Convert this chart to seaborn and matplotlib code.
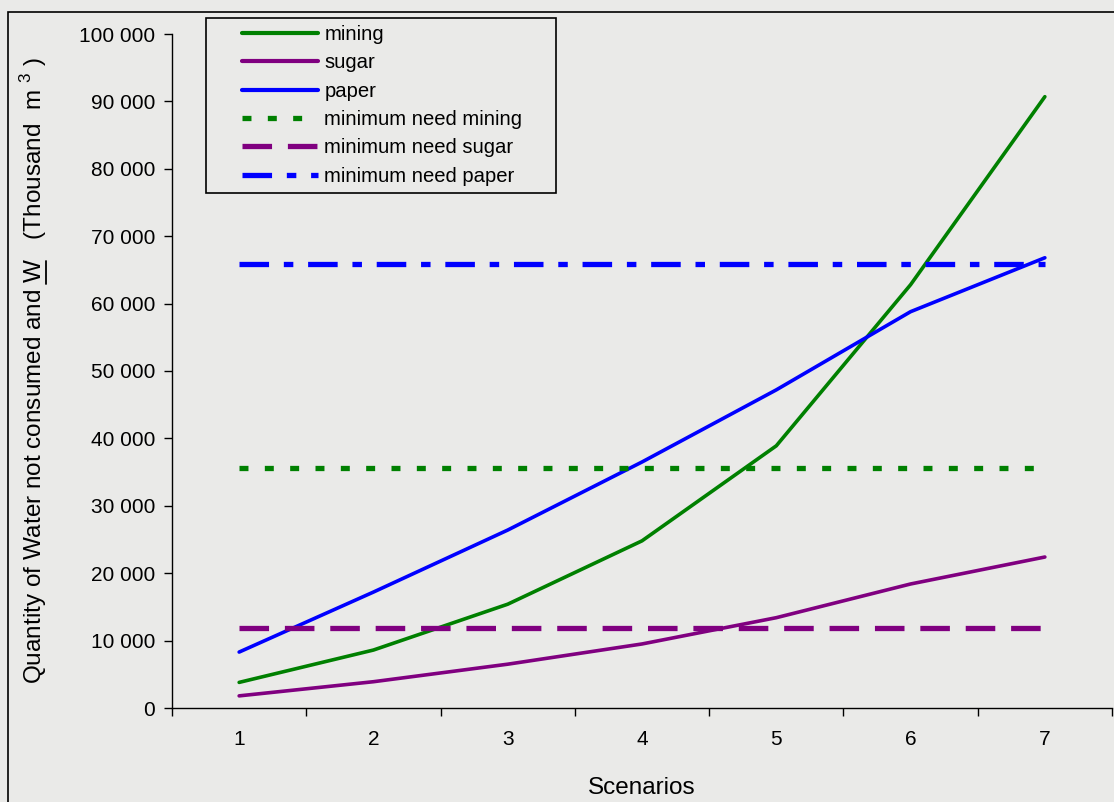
import matplotlib
matplotlib.use("Agg")
import matplotlib.pyplot as plt
import matplotlib.ticker as mticker
from matplotlib.patches import Rectangle
from matplotlib.lines import Line2D
import seaborn as sns
import pandas as pd

# === Data ===
scenarios = [1, 2, 3, 4, 5, 6, 7]
mining = [3800, 8600, 15400, 24800, 38900, 62800, 90700]
sugar = [1800, 3900, 6500, 9500, 13400, 18400, 22400]
paper = [8300, 17200, 26400, 36500, 47200, 58800, 66800]

min_mining = 35600
min_sugar = 11900
min_paper = 65900

series_names = ["mining", "sugar", "paper"]
series_colors = ["#008000", "#800080", "#0000FF"]

df = pd.DataFrame({
    "Scenario": scenarios * 3,
    "value": mining + sugar + paper,
    "sector": [n for n in series_names for _ in scenarios],
})

# === Style ===
sns.set_style("ticks")
plt.rcParams["font.family"] = ["Liberation Sans", "DejaVu Sans"]
plt.rcParams["text.color"] = "black"
plt.rcParams["axes.labelcolor"] = "black"
plt.rcParams["xtick.color"] = "black"
plt.rcParams["ytick.color"] = "black"
plt.rcParams["mathtext.fontset"] = "custom"
plt.rcParams["mathtext.rm"] = "Liberation Sans"

bg = "#eaeae8"
W, H = 1114, 802
fig = plt.figure(figsize=(W / 100, H / 100), dpi=100, facecolor=bg)
ax = fig.add_axes([172 / W, 1 - 708 / H, (1112 - 172) / W, (708 - 34) / H])
ax.set_facecolor(bg)

# outer chart border
fig.patches.append(Rectangle((8 / W, -0.1), 1.2, 1 - 12 / H + 0.1,
                             transform=fig.transFigure, fill=False,
                             edgecolor="black", linewidth=1.2, zorder=0))

# === Lines ===
sns.lineplot(data=df, x="Scenario", y="value", hue="sector",
             palette=dict(zip(series_names, series_colors)),
             linewidth=2.6, legend=False, ax=ax)

dot = (0, (1.7, 3.1))
dash = (0, (5.6, 3.0))
dashdot = (0, (5.6, 2.8, 1.8, 2.8))
lw_min = 3.8
ax.hlines(min_mining, scenarios[0], scenarios[-1], color="#008000",
          linewidth=lw_min, linestyles=dot)
ax.hlines(min_sugar, scenarios[0], scenarios[-1], color="#800080",
          linewidth=lw_min, linestyles=dash)
ax.hlines(min_paper, scenarios[0], scenarios[-1], color="#0000FF",
          linewidth=lw_min, linestyles=dashdot)

# === Axes ===
ax.set_xlim(0.5, 7.5)
ax.set_ylim(0, 100000)
ax.set_yticks(range(0, 100001, 10000))
ax.yaxis.set_major_formatter(mticker.FuncFormatter(
    lambda v, p: f"{v:,.0f}".replace(",", " ")))
ax.set_xticks(scenarios)
ax.set_xticks([s - 0.5 for s in scenarios] + [7.5], minor=True)
ax.tick_params(axis="x", which="major", length=0, pad=16, labelsize=15)
ax.tick_params(axis="x", which="minor", length=6, width=1, direction="out")
ax.tick_params(axis="y", length=6, width=1, pad=6, labelsize=15)
for s in ["top", "right"]:
    ax.spines[s].set_visible(False)
for s in ["left", "bottom"]:
    ax.spines[s].set_linewidth(1)
    ax.spines[s].set_color("black")

prefix = "Quantity of Water not consumed and "
ax.set_xlabel("Scenarios", fontsize=17.5, labelpad=20)
ax.set_ylabel(prefix + "W   (Thousand  m $^{3}$ )", fontsize=17.5)
ax.yaxis.set_label_coords(-0.131, 0.5)

# === Legend ===
handles = [
    Line2D([], [], color="#008000", linewidth=3),
    Line2D([], [], color="#800080", linewidth=3),
    Line2D([], [], color="#0000FF", linewidth=3),
    Line2D([], [], color="#008000", linewidth=3.8, linestyle=dot),
    Line2D([], [], color="#800080", linewidth=3.8, linestyle=dash),
    Line2D([], [], color="#0000FF", linewidth=3.8, linestyle=dashdot),
]
labels = ["mining", "sugar", "paper", "minimum need mining",
          "minimum need sugar", "minimum need paper"]
fig.legend(handles, labels, loc="upper left",
           bbox_to_anchor=(232 / W, 1 - 15 / H), frameon=False,
           handlelength=3.75, handletextpad=0.3, labelspacing=0.46,
           borderpad=0, fontsize=14.6)
fig.patches.append(Rectangle((206 / W, 1 - 193 / H), (556 - 206) / W,
                             (193 - 18) / H, transform=fig.transFigure,
                             fill=False, edgecolor="black", linewidth=1.2))

# underline under the "W" of the y label
fig.canvas.draw()
rend = fig.canvas.get_renderer()
bb = ax.yaxis.label.get_window_extent(rend)
tmp = fig.text(0, 0, prefix.rstrip() + " W", fontsize=17.5)
w_all = tmp.get_window_extent(rend).width
tmp.set_text("W")
w_w = tmp.get_window_extent(rend).width
tmp.remove()
ux = bb.x1 - 2.5
inv = fig.transFigure.inverted()
p0 = inv.transform((ux, bb.y0 + w_all - w_w))
p1 = inv.transform((ux, bb.y0 + w_all))
fig.add_artist(Line2D([p0[0], p1[0]], [p0[1], p1[1]], color="black",
                      linewidth=1.3, transform=fig.transFigure))

fig.savefig("out.png", dpi=100, facecolor=bg)
